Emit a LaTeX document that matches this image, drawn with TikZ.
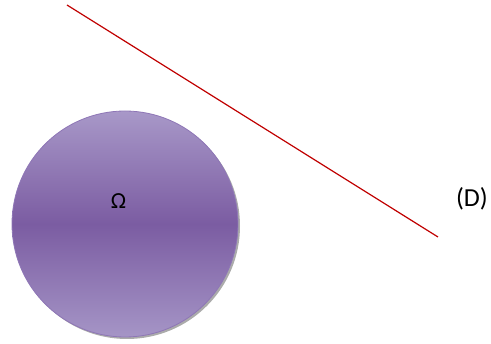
\documentclass[tikz,border=0pt]{standalone}
\usepackage{fontspec}
\setmainfont{Carlito}
\usetikzlibrary{shadows}
\definecolor{ptop}{HTML}{A898C8}
\definecolor{pmid}{HTML}{7B5CA2}
\definecolor{pbot}{HTML}{A595C6}
\definecolor{pedge}{HTML}{8E76B6}
\definecolor{redline}{HTML}{C00000}
\tikzset{
  disc/.style={circle, minimum size=226pt, inner sep=0pt, top color=ptop, bottom color=pbot, middle color=pmid, draw=pedge, line width=0.8pt,
    drop shadow={shadow xshift=2pt, shadow yshift=-2pt, fill=black!55, opacity=0.6}},
  lbl/.style={font={\fontsize{23}{27}\selectfont}, inner sep=0pt},
  dlbl/.style={font={\fontsize{26}{30}\selectfont}, inner sep=0pt},
  dline/.style={draw=redline, line width=1.2pt}
}
\begin{document}
\begin{tikzpicture}[x=1pt,y=-1pt]
\useasboundingbox (0,0) rectangle (491,344);
\node[disc] (omega) at (125,224) {};
\node[lbl] (om) at (118.5,201) {Ω};
\coordinate (a) at (67,5);
\coordinate (b) at (438,237);
\draw[dline] (a) -- (b);
\node[dlbl] (d) at (472,199) {(D)};
\end{tikzpicture}
\end{document}
